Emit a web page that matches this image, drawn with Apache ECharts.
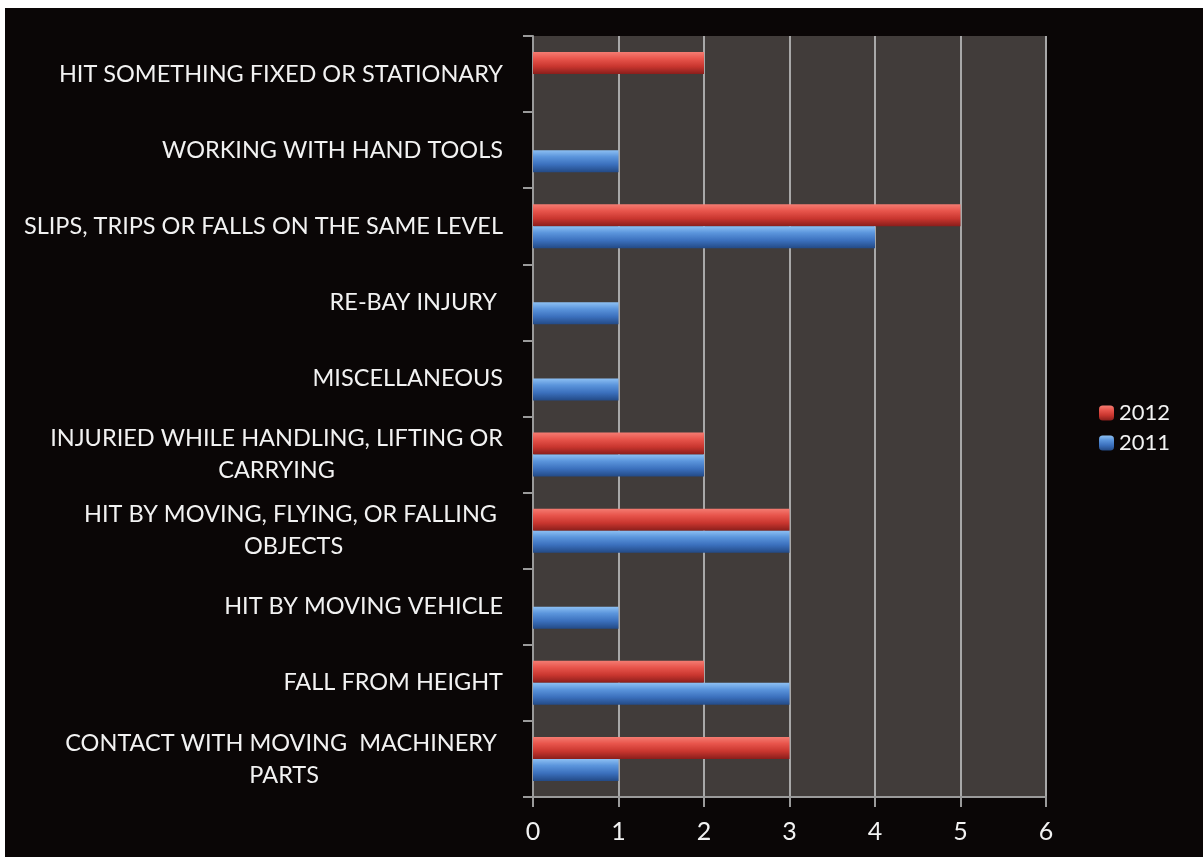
<!DOCTYPE html>
<html>
<head>
<meta charset="utf-8">
<script src="https://cdn.jsdelivr.net/npm/echarts@6/dist/echarts.min.js"></script>
<style>
html,body{margin:0;padding:0;background:#ffffff;}
#chart{position:absolute;left:5px;top:8px;width:1198px;height:849px;background:#0a0606;}
</style>
</head>
<body>
<div id="chart"></div>
<script>
// Categories listed bottom-to-top
const categories = [
  "CONTACT WITH MOVING  MACHINERY \nPARTS",
  "FALL FROM HEIGHT",
  "HIT BY MOVING VEHICLE",
  "HIT BY MOVING, FLYING, OR FALLING \nOBJECTS",
  "INJURIED WHILE HANDLING, LIFTING OR\nCARRYING",
  "MISCELLANEOUS",
  "RE-BAY INJURY ",
  "SLIPS, TRIPS OR FALLS ON THE SAME LEVEL",
  "WORKING WITH HAND TOOLS",
  "HIT SOMETHING FIXED OR STATIONARY"
];
const values2011 = [1, 3, 1, 3, 2, 1, 1, 4, 1, 0];
const values2012 = [3, 2, 0, 3, 2, 0, 0, 5, 0, 2];
const xTicks = [0, 1, 2, 3, 4, 5, 6];

const FONT = 'Lato';
const redGrad = new echarts.graphic.LinearGradient(0, 0, 0, 1, [
  {offset: 0, color: '#f47c72'},
  {offset: 0.3, color: '#e8554c'},
  {offset: 0.65, color: '#c9362f'},
  {offset: 1, color: '#8a1e1b'}
]);
const blueGrad = new echarts.graphic.LinearGradient(0, 0, 0, 1, [
  {offset: 0, color: '#8dc0f3'},
  {offset: 0.3, color: '#5b95dc'},
  {offset: 0.65, color: '#3b70bd'},
  {offset: 1, color: '#234a86'}
]);

const chart = echarts.init(document.getElementById('chart'));
chart.setOption({
  backgroundColor: '#0a0606',
  animation: false,
  grid: {
    left: 528, right: 157, top: 28, bottom: 60,
    show: true, backgroundColor: '#413c3a', borderWidth: 0
  },
  legend: {
    data: ['2012', '2011'],
    orient: 'vertical',
    left: 1089, top: 389,
    itemWidth: 15, itemHeight: 15, itemGap: 8,
    textStyle: {color: '#f2f2f2', fontSize: 22, fontFamily: FONT}
  },
  xAxis: {
    type: 'value',
    min: xTicks[0], max: xTicks[xTicks.length - 1], interval: 1,
    axisLine: {show: true, lineStyle: {color: '#9a9a9a', width: 2}},
    axisTick: {show: true, length: 10, lineStyle: {color: '#9a9a9a', width: 2}},
    splitLine: {show: true, lineStyle: {color: '#a8a8a8', width: 2}},
    axisLabel: {color: '#f2f2f2', fontSize: 25, fontFamily: FONT, margin: 22}
  },
  yAxis: {
    type: 'category',
    data: categories,
    axisLine: {show: true, lineStyle: {color: '#9a9a9a', width: 2}},
    axisTick: {show: true, length: 10, lineStyle: {color: '#9a9a9a', width: 2}},
    axisLabel: {
      color: '#f2f2f2', fontSize: 23.5, fontFamily: FONT, margin: 30,
      formatter: function (v) {
        return v.split('\n').map(function (s) { return '{a|' + s + '}'; }).join('\n');
      },
      rich: {a: {align: 'center', color: '#f2f2f2', fontSize: 23.5, fontFamily: FONT, lineHeight: 32}}
    }
  },
  series: [
    {name: '2012', type: 'bar', data: values2012, barWidth: 22, barGap: '0%',
     itemStyle: {color: redGrad}},
    {name: '2011', type: 'bar', data: values2011, barWidth: 22, barGap: '0%',
     itemStyle: {color: blueGrad}}
  ]
});
</script>
</body>
</html>
